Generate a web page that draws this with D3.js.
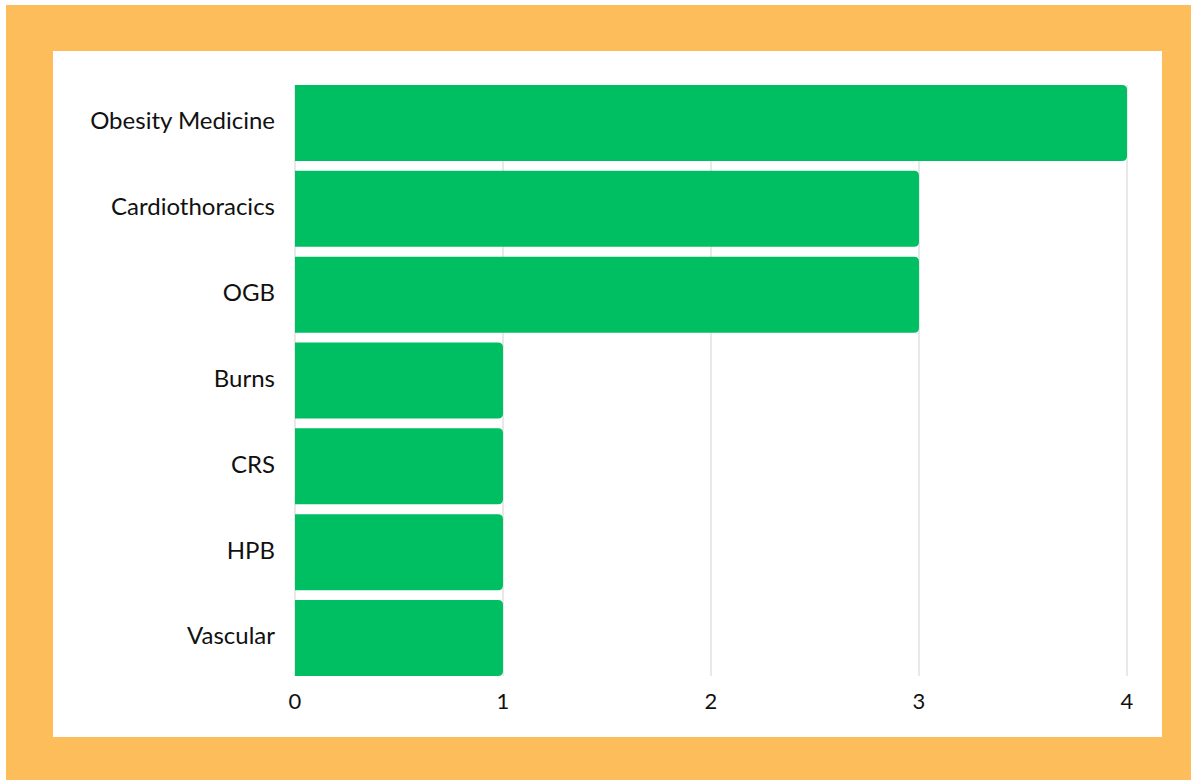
<!DOCTYPE html>
<html>
<head>
<meta charset="utf-8">
<script src="https://cdn.jsdelivr.net/npm/d3@7"></script>
<style>
  body { margin: 0; background: #fff; }
  svg { display: block; font-family: Lato, "Open Sans", sans-serif; }
</style>
</head>
<body>
<svg id="chart" width="1191" height="780"></svg>
<script>
const categories = ['Obesity Medicine', 'Cardiothoracics', 'OGB', 'Burns', 'CRS', 'HPB', 'Vascular'];
const counts = [4, 3, 3, 1, 1, 1, 1];
const xTicks = [0, 1, 2, 3, 4];

const svg = d3.select('#chart');

// orange frame and white panel
svg.append('rect').attr('x', 6).attr('y', 5).attr('width', 1185).attr('height', 775).attr('fill', '#FDBD5B');
svg.append('rect').attr('x', 53).attr('y', 51).attr('width', 1109).attr('height', 686).attr('fill', '#fff');

const plotLeft = 295, plotRight = 1127, plotTop = 85, plotBottom = 676;

const x = d3.scaleLinear().domain([0, 4]).range([plotLeft, plotRight]);
const y = d3.scaleBand().domain(categories).range([plotTop, plotBottom]).paddingInner(0.115).paddingOuter(0);

// gridlines
svg.append('g')
    .selectAll('line')
    .data(xTicks)
    .enter()
    .append('line')
    .attr('x1', d => x(d))
    .attr('x2', d => x(d))
    .attr('y1', plotTop)
    .attr('y2', plotBottom)
    .attr('stroke', '#d9d9d9')
    .attr('stroke-width', 1.2);

// bars, rounded on the right end only
const r = 5;
function barPath(d, i) {
    const x0 = x(0);
    const x1 = x(d);
    const y0 = y(categories[i]);
    const h = y.bandwidth();
    return `M${x0},${y0}H${x1 - r}Q${x1},${y0} ${x1},${y0 + r}V${y0 + h - r}Q${x1},${y0 + h} ${x1 - r},${y0 + h}H${x0}Z`;
}

svg.append('g')
    .selectAll('path')
    .data(counts)
    .enter()
    .append('path')
    .attr('d', barPath)
    .attr('fill', '#00BF63');

// category labels
svg.append('g')
    .selectAll('text')
    .data(categories)
    .enter()
    .append('text')
    .attr('x', 275)
    .attr('y', d => y(d) + y.bandwidth() / 2 - 2)
    .attr('dy', '0.35em')
    .attr('text-anchor', 'end')
    .attr('font-size', 24)
    .attr('fill', '#111')
    .text(d => d);

// x tick labels
svg.append('g')
    .selectAll('text')
    .data(xTicks)
    .enter()
    .append('text')
    .attr('x', d => x(d))
    .attr('y', 701)
    .attr('dy', '0.35em')
    .attr('text-anchor', 'middle')
    .attr('font-size', 22)
    .attr('fill', '#111')
    .text(d => d);
</script>
</body>
</html>
